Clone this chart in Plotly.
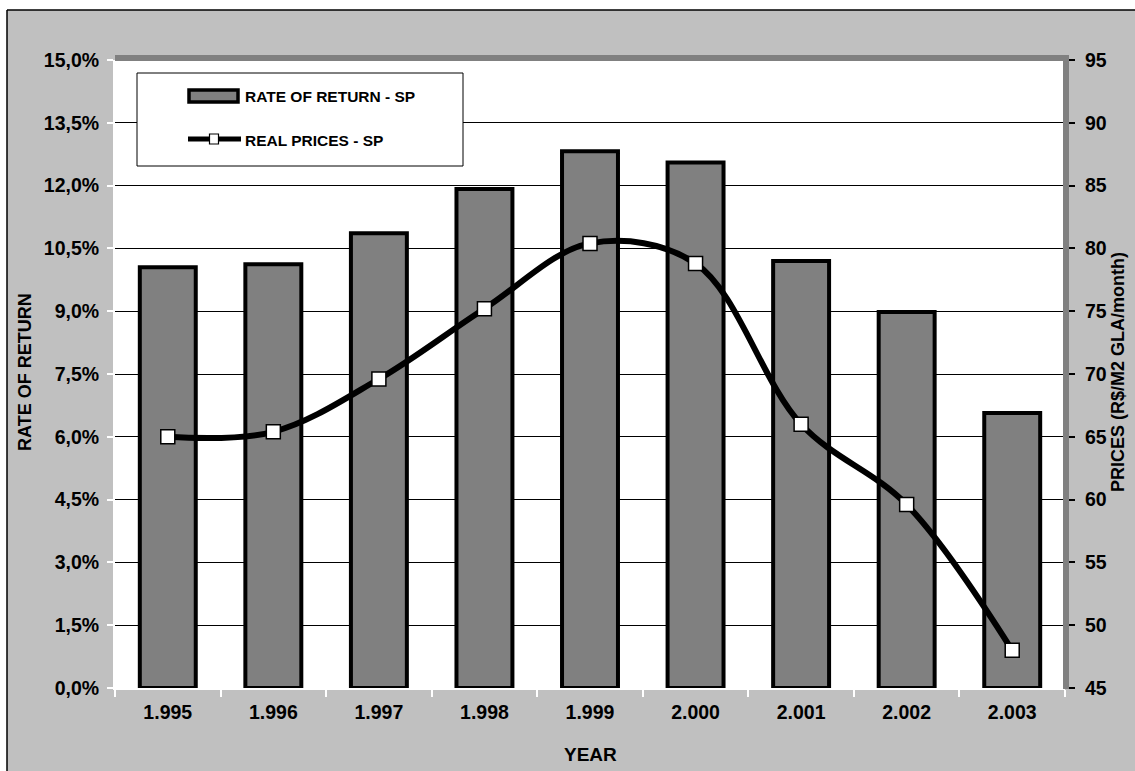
import plotly.graph_objects as go

# Data
years = ["1.995", "1.996", "1.997", "1.998", "1.999", "2.000", "2.001", "2.002", "2.003"]
rate_of_return = [10.05, 10.12, 10.86, 11.92, 12.82, 12.55, 10.20, 8.98, 6.57]   # %
real_prices = [65.0, 65.4, 69.6, 75.2, 80.4, 78.8, 66.0, 59.6, 48.0]            # R$/m2 GLA/month

left_tickvals = [0, 1.5, 3, 4.5, 6, 7.5, 9, 10.5, 12, 13.5, 15]
left_ticktext = ["0,0%", "1,5%", "3,0%", "4,5%", "6,0%", "7,5%", "9,0%",
                 "10,5%", "12,0%", "13,5%", "15,0%"]
right_tickvals = [45, 50, 55, 60, 65, 70, 75, 80, 85, 90, 95]
right_ticktext = [str(v) for v in right_tickvals]

W, H = 1135, 771
ML, MR, MT, MB = 115, 70, 60, 83
PW, PH = W - ML - MR, H - MT - MB

FONT = "Arial, Liberation Sans, sans-serif"
GREY_BG = "#C0C0C0"
BAR_GREY = "#808080"


def fx(p):
    """pixel x -> paper x"""
    return (p - ML) / PW


def fy(p):
    """pixel y -> paper y"""
    return (MT + PH - p) / PH


fig = go.Figure()

fig.add_trace(go.Bar(
    x=years, y=rate_of_return, name="RATE OF RETURN - SP",
    width=0.53,
    marker=dict(color=BAR_GREY, line=dict(color="black", width=4)),
    yaxis="y",
))

fig.add_trace(go.Scatter(
    x=years, y=real_prices, name="REAL PRICES - SP",
    mode="lines+markers",
    line=dict(color="black", width=6, shape="spline", smoothing=1),
    marker=dict(symbol="square", size=14, color="white",
                line=dict(color="black", width=1.5)),
    yaxis="y2",
))

shapes = []
# white page margin outside the chart frame
shapes.append(dict(type="rect", xref="paper", yref="paper", layer="above",
                   x0=fx(0), x1=fx(7), y0=fy(H), y1=fy(0),
                   fillcolor="white", line=dict(width=0)))
shapes.append(dict(type="rect", xref="paper", yref="paper", layer="above",
                   x0=fx(0), x1=fx(W), y0=fy(10), y1=fy(0),
                   fillcolor="white", line=dict(width=0)))
# chart frame (left and top edges)
shapes.append(dict(type="line", xref="paper", yref="paper", layer="above",
                   x0=fx(7), x1=fx(7), y0=fy(H), y1=fy(10),
                   line=dict(color="black", width=1.5)))
shapes.append(dict(type="line", xref="paper", yref="paper", layer="above",
                   x0=fx(7), x1=fx(W), y0=fy(10), y1=fy(10),
                   line=dict(color="black", width=1.5)))
# plot-area shadow border (top and right)
shapes.append(dict(type="line", xref="paper", yref="paper", layer="above",
                   x0=fx(115), x1=fx(1069), y0=fy(58), y1=fy(58),
                   line=dict(color=BAR_GREY, width=6)))
shapes.append(dict(type="line", xref="paper", yref="paper", layer="above",
                   x0=fx(1066), x1=fx(1066), y0=fy(55), y1=fy(689),
                   line=dict(color=BAR_GREY, width=6)))

# legend box
shapes.append(dict(type="rect", xref="paper", yref="paper", layer="above",
                   x0=fx(137), x1=fx(463), y0=fy(166), y1=fy(73),
                   fillcolor="white", line=dict(color="black", width=1)))
# legend symbol: bar
shapes.append(dict(type="rect", xref="paper", yref="paper", layer="above",
                   x0=fx(189), x1=fx(238), y0=fy(102), y1=fy(90),
                   fillcolor=BAR_GREY, line=dict(color="black", width=3.5)))
# legend symbol: line with marker
shapes.append(dict(type="line", xref="paper", yref="paper", layer="above",
                   x0=fx(188), x1=fx(241), y0=fy(139), y1=fy(139),
                   line=dict(color="black", width=5)))
shapes.append(dict(type="rect", xref="paper", yref="paper", layer="above",
                   x0=fx(209.5), x1=fx(218.5), y0=fy(144), y1=fy(134),
                   fillcolor="white", line=dict(color="black", width=1.2)))

annotations = [
    dict(text="RATE OF RETURN - SP", xref="paper", yref="paper",
         x=fx(243), y=fy(96), xanchor="left", yanchor="middle", showarrow=False,
         font=dict(family=FONT, size=15.5, color="black", weight="bold")),
    dict(text="REAL PRICES - SP", xref="paper", yref="paper",
         x=fx(243), y=fy(140), xanchor="left", yanchor="middle", showarrow=False,
         font=dict(family=FONT, size=15.5, color="black", weight="bold")),
    dict(text="YEAR", xref="paper", yref="paper",
         x=fx(590), y=fy(754), xanchor="center", yanchor="middle", showarrow=False,
         font=dict(family=FONT, size=19, color="black", weight="bold")),
    dict(text="RATE OF RETURN", xref="paper", yref="paper", textangle=-90,
         x=fx(25), y=fy(372), xanchor="center", yanchor="middle", showarrow=False,
         font=dict(family=FONT, size=18, color="black", weight="bold")),
    dict(text="PRICES (R$/M2 GLA/month)", xref="paper", yref="paper", textangle=-90,
         x=fx(1118), y=fy(372), xanchor="center", yanchor="middle", showarrow=False,
         font=dict(family=FONT, size=18, color="black", weight="bold")),
]

tickfont = dict(family=FONT, size=19.5, color="black", weight="bold")

fig.update_layout(
    width=W, height=H,
    margin=dict(l=ML, r=MR, t=MT, b=MB, autoexpand=False),
    paper_bgcolor=GREY_BG,
    plot_bgcolor="white",
    showlegend=False,
    bargap=0.47,
    shapes=shapes,
    annotations=annotations,
    xaxis=dict(
        type="category", range=[-0.5, 8.5],
        showgrid=False, zeroline=False,
        showline=True, linecolor="white", linewidth=2,
        ticks="outside", tickson="boundaries", ticklen=7, tickwidth=2, tickcolor="white",
        tickfont=tickfont, ticklabelstandoff=6,
    ),
    yaxis=dict(
        range=[0, 15], tickvals=left_tickvals, ticktext=left_ticktext,
        showgrid=True, gridcolor="black", gridwidth=1, zeroline=False,
        showline=True, linecolor="white", linewidth=2,
        ticks="outside", ticklen=6, tickwidth=2, tickcolor="white",
        tickfont=tickfont, ticklabelstandoff=4,
    ),
    yaxis2=dict(
        overlaying="y", side="right",
        range=[45, 95], tickvals=right_tickvals, ticktext=right_ticktext,
        showgrid=False, zeroline=False, showline=False,
        ticks="outside", ticklen=9, tickwidth=1.5, tickcolor="black",
        tickfont=tickfont, ticklabelstandoff=6,
    ),
)

fig.write_html("out.html")
